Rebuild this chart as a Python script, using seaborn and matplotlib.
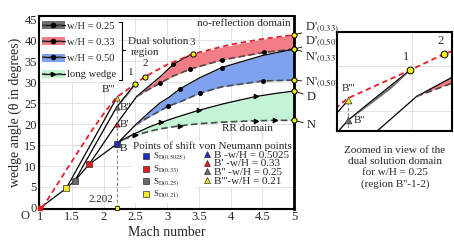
import matplotlib
matplotlib.use("Agg")
import matplotlib.pyplot as plt
import seaborn as sns
from matplotlib.patches import Patch
from matplotlib.lines import Line2D

# red dashed limit curve
det_mach = [1.03, 1.2, 1.4, 1.6, 1.8, 2.0, 2.2, 2.49, 2.65, 3.0, 3.4, 4.0, 4.5, 5.0]
det_ang = [0.0, 4.0, 8.8, 13.5, 18.2, 22.5, 26.4, 29.5, 31.3, 34.2, 36.7, 39.0, 40.3, 41.3]

# w/H = 0.33 band (D' upper, N' lower)
m033 = [2.52, 2.7, 2.89, 3.1, 3.36, 3.86, 4.52, 5.0]
d033 = [26.6, 28.9, 31.3, 34.3, 36.5, 38.4, 40.3, 41.3]
n033 = [26.6, 28.2, 29.8, 31.5, 33.1, 35.3, 37.1, 37.9]

# w/H = 0.50 band
m050 = [2.5, 2.7, 2.89, 3.02, 3.2, 3.52, 3.86, 4.51, 5.0]
d050 = [19.8, 22.6, 25.1, 26.3, 28.4, 31.1, 33.5, 36.4, 37.9]
n050 = [19.8, 21.6, 23.2, 24.3, 25.3, 27.4, 28.9, 30.3, 30.5]

# long wedge band (D upper, N lower)
mlw = [2.3, 2.5, 2.7, 2.9, 3.2, 3.5, 3.9, 4.4, 4.7, 5.0]
dlw = [16.3, 17.8, 19.2, 20.4, 21.9, 23.3, 24.9, 26.6, 27.3, 27.9]
nlw = [16.3, 17.3, 18.2, 18.9, 19.6, 20.1, 20.5, 20.8, 20.9, 20.9]

# w/H = 0.25 thin band B''-1
m025 = [2.202, 2.3, 2.4, 2.49]
d025 = [24.0, 25.9, 27.8, 29.5]
n025 = [24.0, 25.7, 27.5, 29.5]

# line from O through the points of shift
chain_mach = [1.0, 1.41, 1.54, 1.77, 2.202, 2.3]
chain_ang = [0.0, 4.7, 6.4, 10.4, 15.2, 16.3]

# points of shift S_D
sd_wh = ["0.5025", "0.33", "0.25", "0.21"]
sd_mach = [2.202, 1.77, 1.54, 1.41]
sd_ang = [15.2, 10.4, 6.4, 4.7]
sd_colors = ["#1c2ccc", "#e0191b", "#6a6a6a", "#f2e628"]

# von Neumann points
b_names = ["B", "B'", "B''", "B'''"]
b_wh = ["0.5025", "0.33", "0.25", "0.21"]
b_mach = [2.202, 2.202, 2.202, 2.202]
b_ang = [15.2, 20.0, 24.0, 26.2]

# numbered points on the dual solution boundary
pt_names = ["1", "2", "3"]
pt_mach = [2.49, 2.65, 3.40]
pt_ang = [29.5, 31.3, 36.7]

xtick_vals = [1, 1.5, 2, 2.5, 3, 3.5, 4, 4.5, 5]
xtick_labels = ["1", "1.5", "2", "2.5", "3", "3.5", "4", "4.5", "5"]
ytick_vals = [0, 5, 10, 15, 20, 25, 30, 35, 40, 45]

RED = "#f27d86"
BLUE = "#7fa2f0"
GREEN = "#c4f4d6"
GRAY = "#707070"
REDLINE = "#e5202b"
DASHC = "#4a4a4a"
YEL = "#f7ec1c"

sns.set_theme(style="whitegrid")
plt.rcParams["font.family"] = ["Liberation Serif", "DejaVu Serif"]
plt.rcParams["mathtext.fontset"] = "stix"


def draw(ax, s=1.0):
    ax.fill_between(mlw, nlw, dlw, color=GREEN, lw=0, zorder=1)
    ax.fill_between(m050, n050, d050, color=BLUE, lw=0, zorder=1)
    ax.fill_between(m033, n033, d033, color=RED, lw=0, zorder=1)
    ax.fill_between(m025, n025, d025, color=GRAY, lw=0, zorder=1)

    solid = dict(ax=ax, color="black", linewidth=0.9, sort=False, estimator=None)
    dash = dict(ax=ax, color=DASHC, linewidth=1.2, linestyle=(0, (4, 2)),
                sort=False, estimator=None)
    dot = dict(marker="o", markersize=2.8 * s, markerfacecolor="black",
               markeredgecolor="black")
    arr = dict(marker=">", markersize=3.3 * s, markerfacecolor="black",
               markeredgecolor="black")

    # lines from origin and from the points of shift to the B points
    sns.lineplot(x=chain_mach, y=chain_ang, **solid)
    for i in range(1, 4):
        sns.lineplot(x=[sd_mach[i], b_mach[i]], y=[sd_ang[i], b_ang[i]], **solid)
    sns.lineplot(x=[b_mach[1], m033[0]], y=[b_ang[1], d033[0]], **solid)
    sns.lineplot(x=[b_mach[0], m050[0]], y=[b_ang[0], d050[0]], **solid)
    sns.lineplot(x=m025, y=d025, **solid)
    ax.plot([b_mach[0], b_mach[0]], [0, b_ang[3]], color="#888888", lw=0.8,
            ls=(0, (3, 2)), zorder=2)

    # band edges
    sns.lineplot(x=m033[:5], y=d033[:5], markevery=[3], **solid, **dot)
    sns.lineplot(x=m033, y=n033, markevery=[2, 4, 5, 6], **dash, **dot)
    sns.lineplot(x=m050, y=d050, markevery=[4, 6], **solid, **dot)
    sns.lineplot(x=m050, y=n050, markevery=[3, 5, 7], **dash, **dot)
    sns.lineplot(x=mlw, y=dlw, markevery=[3, 5, 7], **solid, **arr)
    sns.lineplot(x=mlw, y=nlw, markevery=[1, 4, 7, 8], **dash, **arr)

    sns.lineplot(x=det_mach, y=det_ang, ax=ax, color=REDLINE, linewidth=1.3,
                 linestyle=(0, (3, 2)), sort=False, estimator=None)

    # markers
    for i in range(4):
        ax.scatter(sd_mach[i], sd_ang[i], marker="s", s=14 * s, color=sd_colors[i],
                   edgecolor="#333333", linewidth=0.5, zorder=5)
        ax.scatter(b_mach[i], b_ang[i], marker="^", s=14 * s, color=sd_colors[i],
                   edgecolor="#333333", linewidth=0.5, zorder=6)
    ax.scatter(pt_mach, pt_ang, s=14 * s, color=YEL, edgecolor="black",
               linewidth=0.7, zorder=7)


fig = plt.figure(figsize=(4.54, 2.43), dpi=100)
ax = fig.add_axes([39 / 454, 1 - 209 / 243, 255 / 454, 193 / 243])
draw(ax)

ax.set_xlim(0.98, 5.0)
ax.set_ylim(-0.25, 45.8)
ax.set_xticks(xtick_vals)
ax.set_xticklabels(xtick_labels)
ax.set_yticks(ytick_vals)
ax.tick_params(labelsize=9, pad=1.5, length=0)
ax.grid(True, color="#dddddd", lw=0.6)
for side, sp in ax.spines.items():
    sp.set_color("black")
    sp.set_linewidth(1.5)
ax.spines["right"].set_linewidth(2.0)
ax.set_xlabel("Mach number", fontsize=10, labelpad=2)
ax.set_ylabel("wedge angle (θ in degrees)", fontsize=10, labelpad=2)

# end points at M = 5 with labels
ends = [
    (d033[-1], "D'$_{(0.33)}$", (8, 5)),
    (d050[-1], "D'$_{(0.50)}$", (8, 5.5)),
    (n033[-1], "N'$_{(0.33)}$", (8, -6)),
    (n050[-1], "N'$_{(0.50)}$", (8, -2)),
    (dlw[-1], "D", (9, -4)),
    (nlw[-1], "N", (9, -3)),
]
for yv, lab, off in ends:
    ax.scatter(5.0, yv, s=14, color=YEL, edgecolor="black", linewidth=0.7,
               zorder=8, clip_on=False)
    ax.annotate(lab, xy=(5.0, yv), xytext=off, textcoords="offset points",
                fontsize=9, ha="left", va="center", annotation_clip=False,
                arrowprops=dict(arrowstyle="-", lw=0.6, color="black",
                                shrinkA=0, shrinkB=2))

for n, mx, ay, off in zip(pt_names, pt_mach, pt_ang, [(-3, 5), (0, 6), (0, 5)]):
    ax.annotate(n, xy=(mx, ay), xytext=off, textcoords="offset points",
                fontsize=8, ha="center", va="bottom")
for n, ay, off, ha in zip(b_names, b_ang, [(2, -3), (2, 0), (2, 0), (-1, 3)],
                          ["left", "left", "left", "right"]):
    ax.annotate(n, xy=(b_mach[0], ay), xytext=off, textcoords="offset points",
                fontsize=8, ha=ha, va="center" if ha == "left" else "bottom")

ax.scatter(b_mach[0], 0, marker="s", s=10, color=YEL, edgecolor="black",
           linewidth=0.5, zorder=8, clip_on=False)
ax.annotate("2.202", xy=(b_mach[0], 0), xytext=(-2, 6), textcoords="offset points",
            fontsize=8, ha="right", va="center")
ax.annotate("O", xy=(1.0, 0), xytext=(-11, -6), textcoords="offset points",
            fontsize=9, ha="center", va="center", annotation_clip=False)
ax.scatter(1.0, 0, marker="s", s=8, color="#e0191b", zorder=8, clip_on=False)

ax.text(4.94, 43.9, "no-reflection domain", fontsize=8, ha="right", va="center")
ax.text(4.26, 19.0, "RR domain", fontsize=8, ha="center", va="center")
ax.text(2.38, 39.8, "Dual solution", fontsize=8, ha="left", va="center")
ax.text(2.42, 37.1, "region", fontsize=8, ha="left", va="center")
bx, tk = 2.29, 0.05
ax.plot([bx - tk, bx, bx, bx - tk], [44.4, 44.4, 30.6, 30.6], color="black",
        lw=0.8, zorder=7)
ax.plot([bx, bx + tk], [37.8, 37.8], color="black", lw=0.8, zorder=7)

# main legend
lw_h = lambda c, mk: (Patch(facecolor=c, edgecolor="none"),
                      Line2D([], [], color="black", lw=0.9),
                      Line2D([], [], color=DASHC, lw=1.1, ls=(0, (3, 2)),
                             marker=mk, ms=3, mfc="black", mec="black"))
leg1 = ax.legend([lw_h(GRAY, "o"), lw_h(RED, "o"), lw_h(BLUE, "o"), lw_h(GREEN, ">")],
                 ["w/H = 0.25", "w/H = 0.33", "w/H = 0.50", "long wedge"],
                 loc="upper left", bbox_to_anchor=(0.005, 0.985), fontsize=7.6,
                 frameon=True, facecolor="white", edgecolor="none", framealpha=1,
                 borderpad=0.2, labelspacing=0.62, handlelength=2.1,
                 handleheight=0.8, handletextpad=0.2, borderaxespad=0)
ax.add_artist(leg1)

sd_h = [Line2D([], [], ls="none", marker="s", ms=4, mfc=c, mec="#333333", mew=0.5)
        for c in sd_colors]
leg2 = ax.legend(sd_h, [r"S$_{\mathrm{D}(" + w + ")}$" for w in sd_wh],
                 title="Points of shift", title_fontsize=8, fontsize=6.5,
                 loc="upper left", bbox_to_anchor=(93 / 255, 1 - 125 / 193),
                 frameon=True, facecolor="white", edgecolor="none", framealpha=1,
                 borderpad=0.1, labelspacing=0.05, handlelength=0.8,
                 handletextpad=0.3, borderaxespad=0)
ax.add_artist(leg2)
b_h = [Line2D([], [], ls="none", marker="^", ms=4, mfc=c, mec="#333333", mew=0.5)
       for c in sd_colors]
ax.legend(b_h, [f"{n}{' ' if len(n) < 4 else ''}-w/H = {w}" for n, w in zip(b_names, b_wh)],
          title="von Neumann points", title_fontsize=8, fontsize=8,
          loc="upper left", bbox_to_anchor=(159 / 255, 1 - 125 / 193),
          frameon=True, facecolor="white", edgecolor="none", framealpha=1,
          borderpad=0.1, labelspacing=-0.1, handlelength=0.8,
          handletextpad=0.2, borderaxespad=0)

# inset: zoomed dual solution domain for w/H = 0.25
axi = fig.add_axes([337 / 454, 1 - 131 / 243, 115 / 454, 99 / 243])
draw(axi, s=1.7)
axi.set_xlim(2.15, 2.685)
axi.set_ylim(22.8, 33.7)
axi.set_xticks([2.5])
axi.set_yticks([25, 30])
axi.set_xticklabels([])
axi.set_yticklabels([])
axi.tick_params(length=0)
axi.grid(True, color="#dddddd", lw=0.6)
axi.set_xlabel("")
axi.set_ylabel("")
for sp in axi.spines.values():
    sp.set_color("black")
    sp.set_linewidth(1.5)
for n, mx, ay in zip(pt_names[:2], pt_mach[:2], pt_ang[:2]):
    axi.annotate(n, xy=(mx, ay), xytext=(-3, 5), textcoords="offset points",
                 fontsize=9, ha="center", va="bottom")
axi.annotate(b_names[3], xy=(b_mach[3], b_ang[3]), xytext=(0, 5),
             textcoords="offset points", fontsize=8, ha="center", va="bottom")
axi.annotate(b_names[2], xy=(b_mach[2], b_ang[2]), xytext=(4, 0),
             textcoords="offset points", fontsize=8, ha="left", va="center")

fig.text(395 / 454, 1 - 146 / 243,
         "Zoomed in view of the\ndual solution domain\nfor w/H = 0.25\n(region B''-1-2)",
         fontsize=8, ha="center", va="top", linespacing=1.3)

fig.savefig("out.png", dpi=100)
